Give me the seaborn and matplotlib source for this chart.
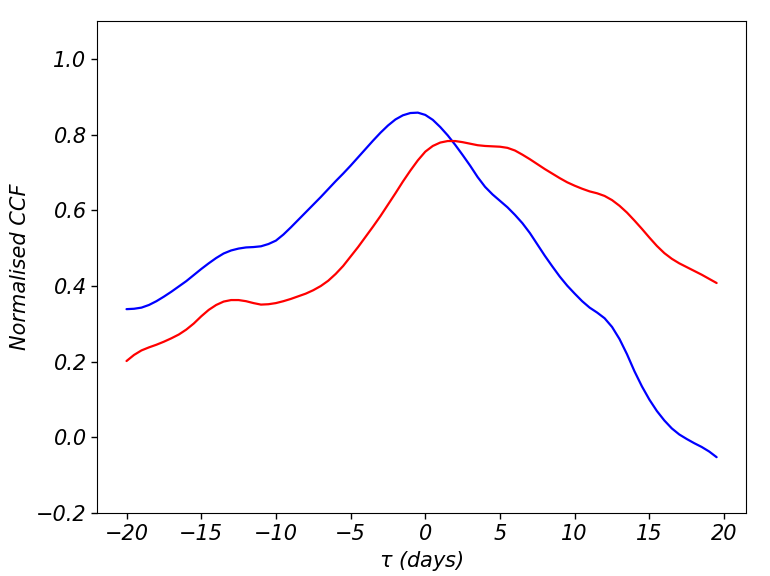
import matplotlib
matplotlib.use("Agg")
import matplotlib.pyplot as plt
import seaborn as sns
import pandas as pd

tau = [-20, -19.5, -19, -18.5, -18, -17.5, -17, -16.5, -16, -15.5, -15, -14.5, -14, -13.5,
       -13, -12.5, -12, -11.5, -11, -10.5, -10, -9.5, -9, -8.5, -8, -7.5, -7, -6.5, -6, -5.5,
       -5, -4.5, -4, -3.5, -3, -2.5, -2, -1.5, -1, -0.5, 0, 0.5, 1, 1.5, 2, 2.5, 3, 3.5, 4, 4.5,
       5, 5.5, 6, 6.5, 7, 7.5, 8, 8.5, 9, 9.5, 10, 10.5, 11, 11.5, 12, 12.5, 13, 13.5, 14, 14.5,
       15, 15.5, 16, 16.5, 17, 17.5, 18, 18.5, 19, 19.5]
ccf_blue = [0.339, 0.340, 0.343, 0.350, 0.360, 0.372, 0.385, 0.399, 0.413, 0.429, 0.445, 0.460,
            0.474, 0.486, 0.494, 0.499, 0.502, 0.503, 0.505, 0.511, 0.520, 0.536, 0.555, 0.575,
            0.595, 0.615, 0.635, 0.656, 0.677, 0.697, 0.718, 0.740, 0.762, 0.784, 0.805, 0.824,
            0.840, 0.851, 0.857, 0.858, 0.852, 0.839, 0.820, 0.798, 0.773, 0.746, 0.718, 0.688,
            0.662, 0.642, 0.625, 0.608, 0.588, 0.566, 0.540, 0.510, 0.480, 0.452, 0.425, 0.401,
            0.380, 0.360, 0.343, 0.330, 0.315, 0.292, 0.260, 0.220, 0.175, 0.135, 0.100, 0.070,
            0.045, 0.024, 0.008, -0.004, -0.015, -0.025, -0.037, -0.052]
ccf_red = [0.202, 0.218, 0.230, 0.238, 0.245, 0.253, 0.262, 0.272, 0.285, 0.301, 0.320, 0.337,
           0.350, 0.359, 0.363, 0.363, 0.360, 0.355, 0.351, 0.352, 0.355, 0.360, 0.366, 0.373,
           0.380, 0.389, 0.400, 0.414, 0.432, 0.453, 0.478, 0.503, 0.530, 0.557, 0.585, 0.615,
           0.645, 0.676, 0.705, 0.732, 0.755, 0.770, 0.779, 0.783, 0.783, 0.780, 0.776, 0.772,
           0.770, 0.769, 0.768, 0.765, 0.758, 0.747, 0.735, 0.722, 0.709, 0.697, 0.685, 0.674,
           0.665, 0.657, 0.650, 0.645, 0.638, 0.627, 0.612, 0.594, 0.573, 0.551, 0.528, 0.506,
           0.487, 0.472, 0.460, 0.450, 0.440, 0.430, 0.419, 0.408]
x_ticks = [-20, -15, -10, -5, 0, 5, 10, 15, 20]
y_ticks = [-0.2, 0.0, 0.2, 0.4, 0.6, 0.8, 1.0]

sns.set_style("ticks")
plt.rcParams['font.family'] = ['DejaVu Sans']
plt.rcParams['text.color'] = 'black'
plt.rcParams['axes.labelcolor'] = 'black'

df = pd.DataFrame({"tau": tau, "blue": ccf_blue, "red": ccf_red})

fig = plt.figure(figsize=(7.7, 5.76), dpi=100)
ax = fig.add_axes([0.126, 0.109, 0.843, 0.8545])
sns.lineplot(data=df, x="tau", y="blue", color="blue", lw=1.6, ax=ax)
sns.lineplot(data=df, x="tau", y="red", color="red", lw=1.6, ax=ax)

ax.set_ylim(-0.2, 1.1)
ax.set_xticks(x_ticks)
ax.set_yticks(y_ticks)
ax.set_yticklabels([f"{v:.1f}".replace("-", "\u2212") for v in y_ticks])
ax.set_xticklabels([str(v).replace("-", "\u2212") for v in x_ticks])
ax.tick_params(labelsize=15, direction="out", length=4, width=1, colors="black")
for lab in ax.get_xticklabels() + ax.get_yticklabels():
    lab.set_fontstyle("italic")
    lab.set_color("black")
ax.set_xlabel(r"$\tau$ (days)", fontsize=15, style="italic", color="black")
ax.set_ylabel("Normalised CCF", fontsize=15, style="italic", color="black")
for s in ax.spines.values():
    s.set_visible(True)
    s.set_color("black")
    s.set_linewidth(0.8)
fig.savefig("out.png", dpi=100)
